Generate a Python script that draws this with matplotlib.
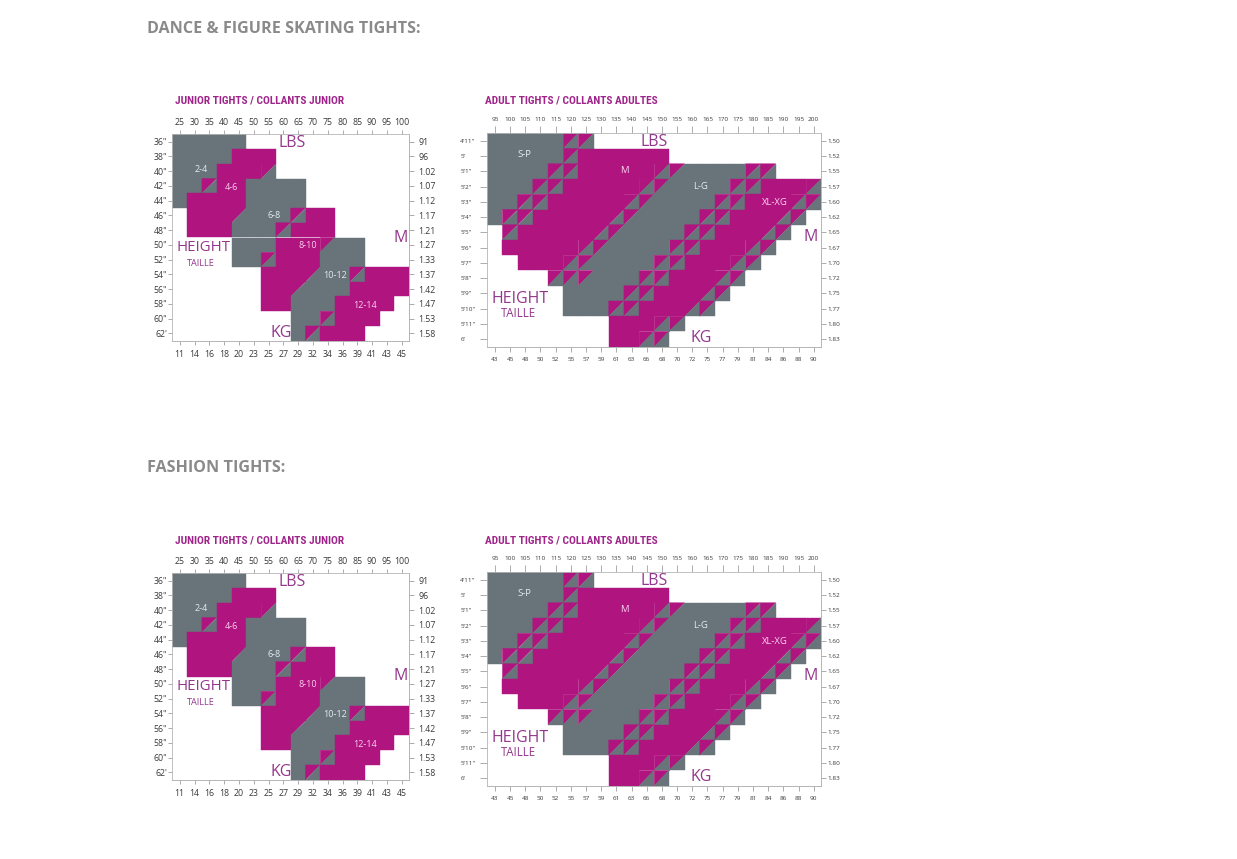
import numpy as np
import matplotlib
matplotlib.use('Agg')
import matplotlib.pyplot as plt
from matplotlib.patches import Rectangle, Polygon
from matplotlib import font_manager

# --- data -----------------------------------------------------------------
sections = ['DANCE & FIGURE SKATING TIGHTS:', 'FASHION TIGHTS:']
junior_title = 'JUNIOR TIGHTS / COLLANTS JUNIOR'
adult_title = 'ADULT TIGHTS / COLLANTS ADULTES'

# G = grey size, P = magenta size, X = overlap (magenta / grey), . = empty
junior_grid = [
    'GGGGG...........',
    'GGGGPPP.........',
    'GGGPPPX.........',
    'GGXPPGGGG.......',
    'GPPPPGGGG.......',
    '.PPPXGGGXPP.....',
    '.PPPGGGXPPP.....',
    '....GGGPPPXGG...',
    '....GGXPPPGGG...',
    '......PPPXGGXPPP',
    '......PPXGGGPPPP',
    '......PPGGGPPPP.',
    '........GGXPPP..',
    '........GXPPP...',
]
junior_lbs = ['25', '30', '35', '40', '45', '50', '55', '60', '65', '70',
              '75', '80', '85', '90', '95', '100']
junior_kg = ['11', '14', '16', '18', '20', '23', '25', '27', '29', '32',
             '34', '36', '39', '41', '43', '45']
junior_height = ['36"', '38"', '40"', '42"', '44"', '46"', '48"', '50"',
                 '52"', '54"', '56"', '58"', '60"', "62'"]
junior_m = ['91', '96', '1.02', '1.07', '1.12', '1.17', '1.21', '1.27',
            '1.33', '1.37', '1.42', '1.47', '1.53', '1.58']
junior_sizes = ['2-4', '4-6', '6-8', '8-10', '10-12', '12-14']

adult_grid = [
    'GGGGGXX...............',
    'GGGGGXPPPPPP..........',
    'GGGGXXPPPPPXXGGGGXX...',
    'GGGXXPPPPPXXGGGGXXPPPX',
    'GGXXPPPPPXXGGGGXXPPPXX',
    'GXXPPPPPXXGGGGXXPPPXX.',
    '.XPPPPPXXGGGGXXPPPXX..',
    '.PPPPPXXGGGGXXPPPXX...',
    '..PPPXXGGGGXXPPPXX....',
    '....XXXGGGXXPPPXX.....',
    '.....GGGGXXPPPXX......',
    '.....GGGXXPPPXX.......',
    '........PPPXX.........',
    '........PPXX..........',
]
adult_lbs = [str(v) for v in range(95, 201, 5)]
adult_kg = ['43', '45', '48', '50', '52', '55', '57', '59', '61', '63', '66',
            '68', '70', '72', '75', '77', '79', '81', '84', '86', '88', '90']
adult_height = ["4'11\"", "5'", "5'1\"", "5'2\"", "5'3\"", "5'4\"", "5'5\"",
                "5'6\"", "5'7\"", "5'8\"", "5'9\"", "5'10\"", "5'11\"", "6'"]
adult_m = ['1.50', '1.52', '1.55', '1.57', '1.60', '1.62', '1.65', '1.67',
           '1.70', '1.72', '1.75', '1.77', '1.80', '1.83']
adult_sizes = ['S-P', 'M', 'L-G', 'XL-XG']

# --- style ----------------------------------------------------------------
W, H = 1237, 859
GRAY = '#68737a'
MAGENTA = '#b0147f'
PURPLE = '#93378c'
TITLE_C = '#a0258a'
LIGHT_G = '#e4ecf2'
LIGHT_P = '#f9d2f0'
TICK_C = '#8c8c8c'
LABEL_C = '#3a3a3a'

names = {f.name for f in font_manager.fontManager.ttflist}
TITLE_FONT = 'DejaVu Sans'
for cand in ['Liberation Sans Narrow', 'Roboto Condensed', 'Open Sans Condensed']:
    if cand in names:
        TITLE_FONT = cand
        break
BODY = 'Open Sans'
plt.rcParams['font.family'] = [BODY, 'DejaVu Sans']

PT = 0.72  # points per pixel at dpi 100


def draw_cells(ax, grid):
    for r, row in enumerate(grid):
        for c, ch in enumerate(row):
            if ch == 'G':
                ax.add_patch(Rectangle((c, r), 1, 1, fc=GRAY, ec=GRAY, lw=0.3))
            elif ch == 'P':
                ax.add_patch(Rectangle((c, r), 1, 1, fc=MAGENTA, ec=MAGENTA, lw=0.3))
            elif ch == 'X':
                ax.add_patch(Polygon([(c, r), (c + 1, r), (c, r + 1)],
                                     fc=MAGENTA, ec=MAGENTA, lw=0.3))
                ax.add_patch(Polygon([(c + 1, r), (c + 1, r + 1), (c, r + 1)],
                                     fc=GRAY, ec=GRAY, lw=0.3))


def draw_chart(fig, box, grid, top, bottom, left, right, fs, tl, pads, left_ha):
    x0, y0, x1, y1 = box
    ax = fig.add_axes([x0 / W, 1 - y1 / H, (x1 - x0) / W, (y1 - y0) / H])
    nr, nc = len(grid), len(grid[0])
    ax.set_xlim(0, nc)
    ax.set_ylim(nr, 0)
    draw_cells(ax, grid)
    cx = np.arange(nc) + 0.5
    cy = np.arange(nr) + 0.5

    ax.set_xticks(cx, top)
    ax.xaxis.tick_top()
    ax.tick_params(axis='x', length=tl[0] * PT, width=0.5, color=TICK_C,
                   labelsize=fs, labelcolor=LABEL_C, pad=pads[0] * PT)
    ax.set_yticks(cy, left)
    ax.tick_params(axis='y', length=tl[2] * PT, width=0.5, color=TICK_C,
                   labelsize=fs, labelcolor=LABEL_C, pad=pads[2] * PT)
    if left_ha == 'left':
        for lbl in ax.get_yticklabels():
            lbl.set_horizontalalignment('left')
    for s in ax.spines.values():
        s.set_color('#b5b5b5')
        s.set_linewidth(0.6)

    sx = ax.secondary_xaxis('bottom')
    sx.set_xticks(cx, bottom)
    sx.tick_params(length=tl[1] * PT, width=0.5, color=TICK_C, labelsize=fs,
                   labelcolor=LABEL_C, pad=pads[1] * PT)
    sx.spines['bottom'].set_color('#b5b5b5')
    sx.spines['bottom'].set_linewidth(0.6)

    sy = ax.secondary_yaxis('right')
    sy.set_yticks(cy, right)
    sy.tick_params(length=tl[3] * PT, width=0.5, color=TICK_C, labelsize=fs,
                   labelcolor=LABEL_C, pad=pads[3] * PT)
    sy.spines['right'].set_color('#b5b5b5')
    sy.spines['right'].set_linewidth(0.6)
    return ax


fig = plt.figure(figsize=(W / 100, H / 100), dpi=100)
fig.patch.set_facecolor('white')

for k, section in enumerate(sections):
    dy = 439 * k
    fig.text(147 / W, 1 - (29 + dy) / H, section, fontsize=11.6, fontweight='bold',
             color='#8a8a8a', ha='left', va='center', family=[BODY, 'DejaVu Sans'])

    # junior chart
    fig.text(175 / W, 1 - (101 + dy) / H, junior_title, fontsize=8.2,
             fontweight='bold', color=TITLE_C, ha='left', va='center',
             family=[TITLE_FONT, 'DejaVu Sans'])
    ax = draw_chart(fig, (172.3, 134.3 + dy, 409.1, 340.7 + dy), junior_grid,
                    junior_lbs, junior_kg, junior_height, junior_m,
                    fs=6.3, tl=(4, 4, 4, 5), pads=(3, 5, 1, 4), left_ha='right')
    big = dict(ha='center', va='center', color=PURPLE, fontsize=11.5)
    ax.text(8.09, 0.62, 'LBS', **big)
    ax.text(15.45, 7.0, 'M', **big)
    ax.text(7.34, 13.5, 'KG', **big)
    ax.text(2.1, 7.68, 'HEIGHT', ha='center', va='center', color=PURPLE, fontsize=10.8)
    ax.text(1.94, 8.73, 'TAILLE', ha='center', va='center', color=PURPLE, fontsize=6.6)
    spots = [(1.93, 2.4), (4.01, 3.6), (6.88, 5.54), (9.19, 7.51), (10.99, 9.59), (13.02, 11.58)]
    for i, (lab, (c, r)) in enumerate(zip(junior_sizes, spots)):
        ax.text(c, r, lab, ha='center', va='center', fontsize=6.5,
                color=LIGHT_G if i % 2 == 0 else LIGHT_P)

    # adult chart
    fig.text(485 / W, 1 - (101 + dy) / H, adult_title, fontsize=8.2,
             fontweight='bold', color=TITLE_C, ha='left', va='center',
             family=[TITLE_FONT, 'DejaVu Sans'])
    ax = draw_chart(fig, (487.3, 133.3 + dy, 821.3, 346.7 + dy), adult_grid,
                    adult_lbs, adult_kg, adult_height, adult_m,
                    fs=4.6, tl=(7, 5, 7, 5), pads=(4, 5, 20, 1), left_ha='left')
    ax.text(11.0, 0.55, 'LBS', **big)
    ax.text(21.3, 6.82, 'M', **big)
    ax.text(14.12, 13.45, 'KG', **big)
    ax.text(2.15, 10.87, 'HEIGHT', ha='center', va='center', color=PURPLE, fontsize=11.5)
    ax.text(2.04, 11.81, 'TAILLE', ha='center', va='center', color=PURPLE, fontsize=8.3)
    spots = [(2.42, 1.42), (9.02, 2.41), (14.08, 3.5), (18.95, 4.55)]
    for i, (lab, (c, r)) in enumerate(zip(adult_sizes, spots)):
        ax.text(c, r, lab, ha='center', va='center', fontsize=6.8,
                color=LIGHT_G if i % 2 == 0 else LIGHT_P)

fig.savefig('out.png', dpi=100, facecolor='white')
